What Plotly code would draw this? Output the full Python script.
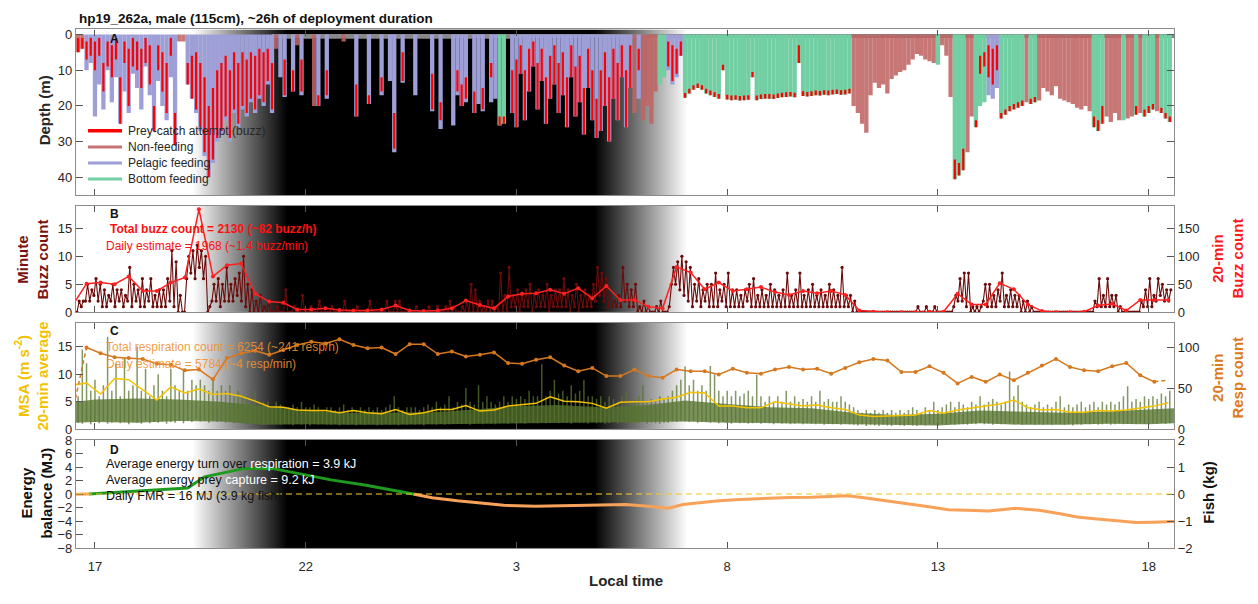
import numpy as np
import plotly.graph_objects as go

W, H = 1258, 604
T_START, T_END = 16.55, 42.6          # hours since midnight of the first day

# x ticks (hours past 24 belong to the next day)
tick_hours = [17, 22, 27, 32, 37, 42]
tick_labels = ["17", "22", "3", "8", "13", "18"]

# sky brightness for the dusk / night / dawn shading (1 = day, 0 = night)
sky_hours = [16.0, 19.3, 21.55, 28.85, 31.05, 43.0]
sky_level = [1, 1, 0, 0, 1, 1]

# ---------------------------------------------------------------- panel A
# one dive every 6 min starting 16:36; max depth (m) and behavioural phase
# N = non-feeding, P = pelagic feeding, B = bottom feeding, S = surfacing only
dive_depth = [
    5, 4, 10, 8, 23, 14, 21, 10, 19, 12,
    25, 16, 22, 11, 15, 21, 9, 17, 27, 13,
    20, 24, 12, 31, 2, 2, 14, 18, 22, 27,
    34, 40, 36, 30, 28, 24, 30, 22, 26, 21,
    23, 19, 22, 18, 20, 14, 22, 4, 12, 17.5,
    1.2, 16, 3, 17, 1.2, 1.2, 20, 20, 1.2, 18,
    1.2, 1.2, 1.2, 2, 1.2, 1.2, 23, 1.2, 1.2, 19.5,
    1.2, 1.2, 17, 1.2, 13, 33, 1.2, 13.5, 1.2, 1.2,
    17, 1.2, 1.2, 1.2, 21.5, 1.2, 26.5, 1.2, 1.2, 25.5,
    17, 20, 19, 1.2, 22, 19.5, 21.5, 1.2, 19, 18,
    25.5, 25, 1.2, 22, 26, 11, 24, 16, 9, 21,
    13, 25, 18, 14, 22, 17, 26, 12, 23, 19,
    28, 15, 24, 29, 27, 20, 30, 18, 24, 12,
    26, 15, 22, 18, 24, 20, 25, 16, 14, 12,
    10, 14, 12, 6, 17.7, 16.5, 15.5, 15, 15.5, 16.5,
    17, 17.5, 18, 10, 18.2, 18.4, 18.3, 18.5, 18.4, 18.3,
    12, 18.4, 18.1, 18.0, 18.0, 18.1, 17.8, 17.6, 17.5, 17.4,
    17.6, 8, 17.2, 17.4, 17.2, 17.0, 17.1, 16.9, 17.0, 16.8,
    16.7, 16.9, 16.8, 16.5, 20, 22, 25, 27.5, 17, 13.5,
    15, 14, 16.5, 12.5, 11.5, 10.5, 10, 8.5, 7, 5.5,
    6, 7, 7.5, 8, 8.5, 3, 6, 17.5, 40.5, 39.5,
    38, 33, 23, 26, 20, 19, 17, 18, 15, 23.5,
    22.5, 21.5, 21, 20.5, 20, 19, 19.5, 19, 18.5, 15,
    16, 17, 14.5, 18, 18.5, 19, 19.5, 20.5, 21, 20,
    21.5, 26, 27, 25, 23, 24.5, 22, 24, 24, 23.5,
    23, 22.5, 22, 23, 22, 21, 21.5, 22, 23.5, 24.5,
]
dive_phase = (
    "NNPPPPPPPP" "PPPPPPPPPP" "PPPPNNPPPP" "PPPPPPPPPP" "PPPPPPPNPP"
    "SPNPSSNPSP" "SSSNSSPSSP" "SSPSPPSPSS" "PSSSPSPSSP" "PPPSPPPSPP"
    "BBSPPPPPPP" "PPPPPPPPPP" "PPPPPPPPPP" "PPNPNNNNBB" "PPPPBBBBBB"
    "BBBBBBBBBB" "BBBBBBBBBB" "BBBBBBBBBB" "BBBBNNNNNN" "NNNNNNNNNN"
    "NNNNBNNNBB" "BNNBBBPPPB" "BBBBBNBBNN" "NNNNNNNNNN" "NBBBNNNNBN"
    "NBNBBBNBBB"
)
# depth range (m) of prey-catch attempts on each dive (0, 0 = none)
buzz_top = [
    1, 1, 2, 1, 2, 1, 8, 2, 3, 1,
    12, 2, 4, 1, 2, 4, 1, 3, 20, 3,
    5, 8, 1, 22, 0, 0, 8, 6, 5, 8,
    12, 20, 15, 10, 8, 6, 10, 5, 8, 5,
    7, 5, 6, 4, 5, 4, 8, 0, 0, 7,
    0, 10, 0, 7, 0, 0, 0, 17, 0, 10,
    0, 0, 0, 0, 0, 0, 14, 0, 0, 17,
    0, 0, 12, 0, 0, 22, 0, 5, 0, 0,
    0, 0, 0, 0, 11, 0, 19, 0, 0, 0,
    10, 14, 12, 0, 16, 0, 15, 0, 8, 0,
    23, 23, 0, 10, 7, 3, 10, 4, 2, 8,
    4, 12, 6, 3, 8, 5, 12, 3, 9, 6,
    15, 4, 10, 18, 10, 5, 12, 4, 8, 3,
    10, 3, 0, 4, 0, 0, 0, 0, 0, 0,
    2, 3, 4, 2, 16.4, 15.2, 14.2, 13.7, 14.2, 15.2,
    15.7, 16.2, 16.7, 8.5, 16.9, 17.1, 17, 17.2, 17.1, 17,
    10.5, 17.1, 16.8, 16.7, 16.7, 16.8, 16.5, 16.3, 16.2, 16.1,
    16.3, 3, 15.9, 16.1, 15.9, 15.7, 15.8, 15.6, 15.7, 15.5,
    15.4, 15.6, 15.5, 15.2, 0, 0, 0, 0, 0, 0,
    0, 0, 0, 0, 0, 0, 0, 0, 0, 0,
    0, 0, 0, 0, 0, 0, 0, 0, 35, 36,
    32, 0, 0, 24, 6, 5, 3, 4, 3, 22,
    21, 20, 19.5, 19, 18.5, 0, 18, 17.5, 0, 0,
    0, 0, 0, 0, 0, 0, 0, 0, 0, 0,
    0, 23, 24, 20, 0, 0, 0, 0, 0, 0,
    0, 20, 0, 21, 20, 19.5, 0, 20.5, 22, 23,
]
buzz_bot = [
    5, 4, 7, 6, 10, 6, 16, 9, 12, 7,
    25, 8, 20, 9, 10, 15, 8, 14, 27, 10,
    16, 22, 6, 31, 0, 0, 14, 18, 21, 26,
    33, 40, 35, 29, 27, 23, 29, 21, 25, 20,
    22, 18, 21, 17, 19, 13, 21, 0, 0, 17,
    0, 16, 0, 16, 0, 0, 0, 20, 0, 17,
    0, 0, 0, 0, 0, 0, 23, 0, 0, 19.5,
    0, 0, 16, 0, 0, 32, 0, 13, 0, 0,
    0, 0, 0, 0, 21, 0, 24, 0, 0, 0,
    16, 20, 18, 0, 22, 0, 21, 0, 12, 0,
    25.5, 25, 0, 22, 26, 11, 24, 16, 9, 21,
    13, 25, 18, 14, 22, 17, 26, 12, 23, 19,
    28, 15, 24, 29, 27, 20, 30, 18, 24, 12,
    26, 15, 0, 10, 0, 0, 0, 0, 0, 0,
    9, 13, 11, 6, 17.7, 16.5, 15.5, 15, 15.5, 16.5,
    17, 17.5, 18, 10, 18.2, 18.4, 18.3, 18.5, 18.4, 18.3,
    12, 18.4, 18.1, 18, 18, 18.1, 17.8, 17.6, 17.5, 17.4,
    17.6, 8, 17.2, 17.4, 17.2, 17, 17.1, 16.9, 17, 16.8,
    16.7, 16.9, 16.8, 16.5, 0, 0, 0, 0, 0, 0,
    0, 0, 0, 0, 0, 0, 0, 0, 0, 0,
    0, 0, 0, 0, 0, 0, 0, 0, 40.5, 39.5,
    38, 0, 0, 26, 11, 9, 12, 14, 10, 23.5,
    22.5, 21.5, 21, 20.5, 20, 0, 19.5, 19, 0, 0,
    0, 0, 0, 0, 0, 0, 0, 0, 0, 0,
    0, 26, 27, 25, 0, 0, 0, 0, 0, 0,
    0, 22.5, 0, 23, 22, 21, 0, 22, 23.5, 24.5,
]
surface_span = [21.2, T_END]          # near-surface band of shallow breathing dives

# ---------------------------------------------------------------- panel B
# per-minute buzz counts, low / high within each 6-min slot
minute_buzz_lo = [
    0, 1, 2, 2, 3, 2, 1, 1, 2, 1,
    2, 1, 2, 1, 2, 1, 1, 2, 1, 1,
    1, 1, 2, 1, 0, 0, 6, 7, 6, 8,
    6, 0, 2, 2, 1, 2, 2, 2, 3, 2,
    1, 0, 0, 0, 0, 0, 0, 0, 0, 0,
    0, 0, 0, 0, 0, 0, 0, 0, 0, 0,
    0, 0, 0, 0, 0, 0, 0, 0, 0, 0,
    0, 0, 0, 0, 0, 0, 0, 0, 0, 0,
    0, 0, 0, 0, 0, 0, 0, 0, 0, 0,
    0, 0, 0, 0, 0, 0, 0, 0, 0, 0,
    0, 0, 0, 1, 1, 0, 1, 1, 0, 1,
    1, 1, 0, 1, 1, 1, 1, 0, 1, 0,
    1, 1, 1, 2, 3, 2, 1, 1, 1, 1,
    2, 1, 1, 0, 0, 0, 0, 0, 0, 0,
    0, 5, 5, 4, 3, 2, 1, 2, 1, 2,
    1, 1, 1, 2, 1, 1, 1, 1, 1, 2,
    1, 1, 1, 1, 1, 1, 1, 1, 1, 1,
    1, 1, 1, 1, 1, 1, 1, 1, 1, 1,
    1, 1, 1, 1, 0, 0, 0, 0, 0, 0,
    0, 0, 0, 0, 0, 0, 0, 0, 0, 0,
    0, 0, 0, 0, 0, 0, 0, 0, 1, 2,
    2, 1, 0, 0, 0, 2, 1, 1, 1, 2,
    1, 1, 1, 1, 0, 0, 0, 0, 0, 0,
    0, 0, 0, 0, 0, 0, 0, 0, 0, 0,
    0, 0, 1, 1, 1, 1, 1, 0, 0, 0,
    0, 0, 0, 1, 1, 1, 2, 3, 2, 2,
]
minute_buzz_hi = [
    2, 2, 5, 4, 6, 5, 4, 3, 5, 4,
    4, 3, 8, 5, 4, 6, 4, 6, 3, 4,
    4, 6, 11, 9, 3, 0, 10, 11, 12, 11,
    10, 1, 5, 6, 5, 8, 5, 6, 7, 10,
    5, 4, 2, 3, 1, 2, 0, 1, 0, 4,
    0, 1, 0, 3, 0, 1, 0, 2, 0, 0,
    1, 0, 0, 2, 0, 0, 1, 0, 0, 2,
    0, 0, 0, 2, 0, 2, 2, 0, 0, 0,
    1, 0, 0, 1, 0, 1, 0, 1, 2, 1,
    0, 1, 2, 5, 4, 2, 1, 2, 2, 1,
    7, 3, 8, 3, 4, 3, 4, 5, 3, 4,
    3, 5, 3, 4, 4, 6, 4, 3, 5, 3,
    4, 3, 5, 8, 7, 6, 3, 2, 3, 8,
    5, 4, 5, 1, 2, 1, 0, 1, 2, 0,
    1, 8, 9, 10, 9, 8, 5, 6, 4, 5,
    5, 7, 4, 5, 7, 4, 4, 3, 4, 5,
    6, 3, 4, 3, 5, 4, 3, 4, 7, 3,
    4, 7, 3, 4, 5, 3, 4, 3, 5, 4,
    3, 8, 3, 3, 2, 0, 0, 0, 0, 0,
    0, 0, 0, 0, 0, 0, 0, 0, 0, 1,
    0, 1, 0, 1, 0, 0, 0, 0, 3, 6,
    7, 7, 1, 1, 1, 5, 5, 3, 4, 7,
    3, 4, 3, 3, 2, 2, 1, 0, 0, 0,
    0, 0, 0, 0, 0, 0, 0, 0, 0, 0,
    0, 2, 6, 3, 6, 3, 3, 1, 0, 0,
    0, 0, 2, 4, 6, 3, 6, 5, 4, 4,
]
# 20-min windows centred from 16:28 onwards
buzz_20min = [
    12, 51, 53, 50, 64, 38, 38, 53, 62, 184, 64,
    84, 87, 33, 19, 17, 5, 5, 7, 4, 3,
    3, 5, 12, 3, 2, 3, 7, 21, 13, 7,
    28, 33, 34, 40, 33, 43, 25, 47, 22, 22,
    10, 7, 81, 71, 41, 53, 38, 41, 45, 36,
    31, 38, 34, 38, 31, 3, 1, 0, 0, 0,
    1, 1, 33, 14, 14, 52, 41, 14, 2, 0,
    0, 1, 12, 15, 3, 22, 22, 22,
]

# ---------------------------------------------------------------- panel C
# minimum specific acceleration (m s-2): floor and peak within each 6-min slot
msa_lo = [
    1.2, 1.0, 1.4, 0.9, 1.3, 1.1, 1.5, 1.0, 1.2, 1.4,
    1.1, 1.3, 0.9, 1.4, 1.2, 1.0, 1.5, 1.1, 1.3, 1.2,
    1.4, 1.0, 1.3, 1.2, 1.5, 1.1, 1.6, 1.3, 1.8, 1.4,
    1.5, 1.2, 1.6, 1.3, 1.4, 1.2, 1.5, 1.1, 1.3, 1.2,
    1.0, 1.2, 0.9, 1.1, 0.8, 1.0, 0.9, 1.1, 0.8, 1.0,
    0.9, 0.7, 1.0, 0.8, 0.9, 0.7, 1.0, 0.8, 0.9, 0.8,
    0.8, 1.0, 0.7, 0.9, 0.8, 1.0, 0.7, 0.9, 0.8, 0.9,
    0.9, 0.7, 0.8, 1.0, 0.8, 0.9, 0.7, 0.9, 0.8, 1.0,
    0.8, 0.9, 0.7, 1.0, 0.9, 0.8, 1.0, 0.8, 0.9, 1.0,
    1.0, 0.9, 1.1, 0.8, 1.0, 1.2, 0.9, 1.1, 1.0, 0.9,
    1.1, 1.2, 1.0, 1.3, 1.1, 1.2, 1.0, 1.3, 1.2, 1.1,
    1.3, 1.1, 1.2, 1.4, 1.1, 1.3, 1.2, 1.0, 1.3, 1.2,
    1.2, 1.0, 1.3, 1.1, 1.2, 1.0, 1.1, 1.3, 1.0, 1.2,
    1.1, 1.2, 1.0, 1.1, 1.3, 1.0, 1.2, 1.1, 1.0, 1.2,
    1.2, 1.4, 1.3, 1.5, 1.4, 1.3, 1.5, 1.2, 1.4, 1.3,
    1.2, 1.4, 1.1, 1.3, 1.2, 1.0, 1.3, 1.1, 1.2, 1.0,
    1.1, 1.3, 1.0, 1.2, 1.1, 0.9, 1.2, 1.0, 1.1, 0.9,
    1.0, 1.2, 0.9, 1.1, 1.0, 0.9, 1.1, 0.8, 1.0, 0.9,
    1.0, 0.8, 1.1, 0.9, 0.8, 0.7, 0.9, 0.6, 0.8, 0.7,
    0.6, 0.8, 0.7, 0.6, 0.8, 0.7, 0.6, 0.8, 0.7, 0.6,
    0.8, 0.7, 0.9, 0.8, 0.7, 0.9, 0.8, 1.0, 0.8, 0.9,
    0.9, 0.8, 1.0, 0.9, 1.1, 0.9, 1.0, 0.8, 1.0, 0.9,
    1.0, 1.1, 0.9, 1.0, 0.8, 0.9, 1.0, 0.8, 0.9, 0.8,
    0.9, 0.8, 1.0, 0.9, 0.8, 0.9, 0.7, 0.9, 0.8, 1.0,
    0.9, 1.0, 0.8, 0.9, 1.0, 0.8, 0.9, 1.1, 0.9, 1.0,
    1.0, 0.9, 1.1, 1.0, 0.9, 1.1, 1.0, 1.2, 1.0, 1.1,
]
msa_hi = [
    6, 14.5, 12, 7, 9, 6, 8, 16.8, 7, 12,
    6, 13, 7, 8, 15, 7, 11, 6, 8, 10,
    7, 6, 11, 8, 7, 11, 7, 9, 8, 9,
    8, 7, 9, 7, 8, 7, 8, 6, 7, 6,
    6, 5, 7, 5, 5, 5, 4, 5, 4.5, 4,
    4, 4.5, 4, 5, 4, 4, 4.5, 4, 3.5, 4,
    4, 3.5, 4, 4.5, 3.5, 4, 3.5, 4, 3.5, 4,
    3.5, 4, 3.5, 4, 4.5, 6, 4, 3.5, 4, 4,
    4, 3.5, 4, 4.5, 4, 5, 4, 4.5, 6, 4,
    5, 4.5, 7.5, 5, 4.5, 8, 5, 6, 5, 4.5,
    5, 6, 5, 6, 5.5, 6, 5.5, 7, 6, 6,
    11.8, 6, 7, 9, 6.5, 7, 6, 8, 6.5, 7,
    9, 6, 6, 5.5, 6, 5, 6, 5.5, 5, 6,
    7, 5, 5.5, 6, 8, 5, 5.5, 5, 6, 5.5,
    6, 7, 8, 9, 11.4, 8, 9, 7, 8, 7,
    11.5, 10, 7, 6, 7, 6, 7, 6, 6.5, 7,
    6, 9.9, 6, 5, 6, 5, 6, 5, 7, 5,
    6, 5, 5.5, 5, 6, 5, 7, 5, 5.5, 5,
    5, 6, 5, 4.5, 4, 3.5, 3, 3.5, 3, 3.5,
    3, 3.5, 3, 3.5, 3, 3.5, 3, 3.5, 4, 3.5,
    3, 4, 3.5, 5, 3.5, 4, 4.5, 5, 4, 5,
    4.5, 4, 5, 4.5, 6, 4.5, 5, 5.5, 5, 4.5,
    5, 10.5, 6, 8, 5, 4.5, 4, 4.5, 5, 4,
    4.5, 4, 5, 6, 4, 4.5, 4, 4.5, 5, 4,
    4.5, 5, 4, 5, 4.5, 5, 4.5, 5, 6, 7.8,
    5, 5.5, 5, 6, 5.5, 6, 5.5, 6.5, 6, 7,
]
# upper edge of the dense part of the MSA trace, hourly
msa_band_hours = [16.55, 17, 18, 19, 20, 21, 22, 23, 24, 25, 26, 27, 28, 29,
                  30, 31, 32, 33, 34, 35, 36, 37, 38, 39, 40, 41, 42, 42.6]
msa_band = [5.0, 5.4, 5.6, 5.4, 5.0, 4.2, 3.4, 3.0, 3.0, 3.1, 3.6, 4.2, 4.4, 4.0,
            4.3, 5.2, 4.6, 4.0, 3.8, 3.0, 2.6, 2.8, 3.4, 3.2, 3.0, 3.2, 3.6, 3.8]
msa_20min = [
    8.0, 8.4, 6.4, 9.2, 9.0, 7.1, 5.3, 7.7, 6.6, 7.3, 6.3,
    6.5, 6.0, 5.1, 4.1, 4.0, 3.5, 3.4, 3.4, 3.0, 3.4,
    3.0, 2.8, 3.6, 2.7, 3.0, 3.6, 3.6, 4.3, 3.3, 3.5,
    4.2, 4.5, 4.7, 5.9, 5.1, 5.0, 4.7, 3.8, 4.9, 5.0,
    5.0, 5.5, 5.8, 6.7, 6.6, 4.2, 4.2, 3.9, 3.9, 5.0,
    4.6, 4.2, 4.4, 3.9, 3.6, 2.6, 2.3, 2.4, 2.5, 2.6,
    3.4, 2.9, 3.5, 3.9, 4.2, 4.6, 5.3, 3.9, 3.5, 3.6,
    3.1, 3.1, 3.4, 3.3, 3.5, 3.9, 4.2, 4.8,
]
resp_20min = [
    21, 100, 93, 88, 87, 86, 80, 79, 72, 73, 61,
    87, 93, 96, 91, 97, 103, 107, 105, 110, 103,
    99, 100, 92, 104, 104, 92, 95, 89, 91, 94,
    81, 80, 85, 88, 78, 71, 75, 65, 65, 73,
    65, 63, 73, 71, 71, 67, 74, 69, 68, 73,
    76, 73, 74, 68, 75, 82, 86, 84, 70, 70,
    77, 69, 56, 64, 58, 67, 60, 69, 78, 86,
    76, 72, 71, 77, 81, 66, 58, 60,
]

# ---------------------------------------------------------------- panel D
energy_hours = [
    16.55, 16.86, 17.9, 18.6, 19.2, 19.6, 20.2, 20.55, 21.2, 21.8,
    22.6, 23.4, 24.16, 24.55, 25.0, 25.6, 26.2, 26.7, 27.45, 28.0,
    28.55, 29.1, 29.6, 30.2, 30.6, 30.95, 31.4, 31.8, 32.3, 32.9,
    33.5, 34.0, 34.5, 34.85, 35.2, 35.6, 36.15, 36.7, 37.25, 37.7,
    38.2, 38.5, 38.85, 39.1, 39.4, 39.9, 40.3, 40.65, 40.95, 41.3,
    41.7, 42.1, 42.6,
]
energy_mj = [
    -0.02, 0, 0.4, 0.6, 0.9, 2.55, 3.3, 3.8, 3.8, 3.1,
    2.1, 1.35, 0.5, 0, -0.55, -1.0, -1.35, -1.65, -1.8, -1.75,
    -1.65, -1.6, -1.55, -1.85, -2.1, -1.55, -1.25, -1.0, -0.8, -0.6,
    -0.5, -0.45, -0.35, -0.25, -0.5, -0.8, -1.3, -1.8, -2.3, -2.4,
    -2.5, -2.3, -2.1, -2.25, -2.4, -2.9, -3.4, -3.6, -3.8, -4.0,
    -4.2, -4.15, -4.05,
]
MJ_PER_KG_FISH = 4.0

# ---------------------------------------------------------------- helpers
slot_hours = 16.6 + 0.1 * np.arange(len(dive_depth))
win_hours = 16.80 + np.arange(-1, len(buzz_20min) - 1) / 3.0

PX_L, PX_R = 76, 1174
PANEL_PX = {"A": (23, 193), "B": (204, 313), "C": (324, 433), "D": (444, 555)}


def px_x(px):
    return px / W


def px_y(py):
    return 1 - py / H


def ydom(key):
    top, bot = PANEL_PX[key]
    return [px_y(bot), px_y(top)]


def vsegments(hours, tops, bottoms):
    xs, ys = [], []
    for t, a, b in zip(hours, tops, bottoms):
        xs += [t, t, None]
        ys += [a, b, None]
    return xs, ys


def zigzag(hours, lo, hi, half=0.025):
    xs, ys = [], []
    for t, a, b in zip(hours, lo, hi):
        xs += [t - half, t + half]
        ys += [a, b]
    return xs, ys


FONT = "Liberation Sans, Arial, Helvetica, sans-serif"
TICK_FONT = dict(family=FONT, size=13, color="#262626")
GRID = "#e6e6e6"
FRAME = "#8c8c8c"
OLIVE = "rgba(88,116,48,0.75)"

fig = go.Figure()


def add_sky(xa, ya, y_lo, y_hi):
    fig.add_trace(go.Heatmap(
        x=sky_hours, y=[y_lo, y_hi], z=[sky_level, sky_level],
        zmin=0, zmax=1, zsmooth="best", showscale=False,
        colorscale=[[0, "#000000"], [1, "#ffffff"]],
        hoverinfo="skip", xaxis=xa, yaxis=ya,
    ))


# ---- panel A: dive profiles
add_sky("x", "y", -5, 50)
fig.add_trace(go.Scatter(
    x=surface_span, y=[0.45, 0.45], mode="lines",
    line=dict(color="#858585", width=4),
    hoverinfo="skip", xaxis="x", yaxis="y",
))
PHASE_COLOR = {
    "S": "#8a8a8a",
    "N": "rgba(192,100,100,0.88)",
    "P": "#9f9fd8",
    "B": "#72cfa3",
}
for code, color in PHASE_COLOR.items():
    idx = [i for i, c in enumerate(dive_phase) if c == code]
    xs, ys = vsegments([slot_hours[i] for i in idx], [0] * len(idx),
                       [dive_depth[i] for i in idx])
    fig.add_trace(go.Scatter(
        x=xs, y=ys, mode="lines", line=dict(color=color, width=4.3),
        hoverinfo="skip", xaxis="x", yaxis="y",
    ))
idx = [i for i in range(len(buzz_bot)) if buzz_bot[i] > 0]
xs, ys = vsegments([slot_hours[i] for i in idx], [buzz_top[i] for i in idx],
                   [buzz_bot[i] for i in idx])
fig.add_trace(go.Scatter(
    x=xs, y=ys, mode="lines", line=dict(color="#ff0000", width=2.2),
    hoverinfo="skip", xaxis="x", yaxis="y",
))

# ---- panel B: buzz counts
add_sky("x2", "y2", -1, 20)
xs, ys = zigzag(slot_hours, minute_buzz_lo, minute_buzz_hi)
fig.add_trace(go.Scatter(
    x=xs, y=ys, mode="lines+markers",
    line=dict(color="#6b0b0b", width=1.1),
    marker=dict(color="#6b0b0b", size=3.2),
    hoverinfo="skip", xaxis="x2", yaxis="y2",
))
fig.add_trace(go.Scatter(
    x=win_hours, y=buzz_20min, mode="lines+markers",
    line=dict(color="#ff1f1f", width=1.5),
    marker=dict(color="#ff1f1f", size=4),
    hoverinfo="skip", xaxis="x2", yaxis="y5",
))

# ---- panel C: acceleration and respirations
add_sky("x3", "y3", -1, 20)
band_floor = np.interp(msa_band_hours, slot_hours, msa_lo)
fig.add_trace(go.Scatter(
    x=msa_band_hours + msa_band_hours[::-1],
    y=msa_band + list(band_floor[::-1]), mode="lines", fill="toself",
    fillcolor="rgba(86,114,46,0.78)", line=dict(width=0),
    hoverinfo="skip", xaxis="x3", yaxis="y3",
))
xs, ys = vsegments(slot_hours, msa_lo, msa_hi)
fig.add_trace(go.Scatter(
    x=xs, y=ys, mode="lines", line=dict(color=OLIVE, width=1.5),
    hoverinfo="skip", xaxis="x3", yaxis="y3",
))
fig.add_trace(go.Scatter(
    x=win_hours, y=msa_20min, mode="lines",
    line=dict(color="#f2c200", width=1.5),
    hoverinfo="skip", xaxis="x3", yaxis="y3",
))
fig.add_trace(go.Scatter(
    x=win_hours[1:-1], y=resp_20min[1:-1], mode="lines+markers",
    line=dict(color="#d6781e", width=1.5),
    marker=dict(color="#d6781e", size=4),
    hoverinfo="skip", xaxis="x3", yaxis="y6",
))
for sl in (slice(0, 2), slice(-2, None)):
    fig.add_trace(go.Scatter(
        x=win_hours[sl], y=resp_20min[sl], mode="lines",
        line=dict(color="#d6781e", width=1.5, dash="4px,3px"),
        hoverinfo="skip", xaxis="x3", yaxis="y6",
    ))

# ---- panel D: cumulative energy balance
add_sky("x4", "y4", -9, 9)
e = np.array(energy_mj)
fig.add_trace(go.Scatter(
    x=energy_hours, y=np.where(e <= 0, e, None), mode="lines",
    line=dict(color="#f7a258", width=3),
    hoverinfo="skip", xaxis="x4", yaxis="y4",
))
fig.add_trace(go.Scatter(
    x=energy_hours, y=np.where(e >= 0, e, None), mode="lines",
    line=dict(color="#1f9a1f", width=3),
    hoverinfo="skip", xaxis="x4", yaxis="y4",
))
fig.add_trace(go.Scatter(
    x=energy_hours, y=e / MJ_PER_KG_FISH, mode="lines",
    line=dict(color="rgba(0,0,0,0)", width=0),
    hoverinfo="skip", xaxis="x4", yaxis="y7",
))
fig.add_shape(type="line", xref="x4 domain", x0=0, x1=1, yref="y4",
              y0=0, y1=0, layer="above",
              line=dict(color="rgba(242,200,40,0.7)", width=1.5, dash="6px,4px"))

# ---------------------------------------------------------------- axes
x_dom = [px_x(PX_L), px_x(PX_R)]


def xaxis(anchor, labels):
    return dict(
        domain=x_dom, anchor=anchor, range=[T_START, T_END],
        tickmode="array", tickvals=tick_hours, ticktext=tick_labels,
        showticklabels=labels, tickfont=TICK_FONT, ticklabelstandoff=6,
        ticks="inside", ticklen=6, tickcolor="#555555",
        showgrid=True, gridcolor=GRID, zeroline=False,
        showline=True, linecolor=FRAME, linewidth=1.3, mirror="ticks",
    )


def yaxis(key, rng, vals, grid=True, mirror=True):
    return dict(
        domain=ydom(key), range=rng, tickmode="array", tickvals=vals,
        tickfont=TICK_FONT, ticks="inside", ticklen=7, tickcolor="#555555",
        showgrid=grid, gridcolor=GRID, zeroline=False,
        showline=True, linecolor=FRAME, linewidth=1.3, mirror=mirror,
    )


def yright(over, anchor, rng, vals):
    return dict(
        overlaying=over, anchor=anchor, side="right", range=rng,
        tickmode="array", tickvals=vals, tickfont=TICK_FONT,
        ticks="inside", ticklen=7, tickcolor="#555555",
        showgrid=False, zeroline=False,
        showline=True, linecolor=FRAME, linewidth=1.3,
    )


yC = yaxis("C", [0, 19.3], [0, 5, 10, 15], grid=False)
yC["minor"] = dict(tickmode="array", tickvals=[50 * 19.3 / 130, 100 * 19.3 / 130],
                   showgrid=True, gridcolor=GRID, ticks="")

fig.update_layout(
    width=W, height=H, margin=dict(l=0, r=0, t=0, b=0),
    paper_bgcolor="white", plot_bgcolor="white",
    font=dict(family=FONT, size=12, color="#262626"),
    showlegend=False,
    xaxis=xaxis("y", False), xaxis2=xaxis("y2", False),
    xaxis3=xaxis("y3", False), xaxis4=xaxis("y4", True),
    yaxis=yaxis("A", [45, -1.4], [0, 10, 20, 30, 40], mirror="ticks"),
    yaxis2=yaxis("B", [0, 19], [0, 5, 10, 15]),
    yaxis3=yC,
    yaxis4=yaxis("D", [-8, 8], list(range(-8, 9, 2))),
    yaxis5=yright("y2", "x2", [0, 190], [0, 50, 100, 150]),
    yaxis6=yright("y3", "x3", [0, 130], [0, 50, 100]),
    yaxis7=yright("y4", "x4", [-2, 2], [-2, -1, 0, 1, 2]),
)

# ---------------------------------------------------------------- text
ann = []


def text(px, py, s, size=12, color="#262626", bold=False, anchor="left",
         angle=0):
    if bold:
        s = "<b>" + s + "</b>"
    ann.append(dict(
        x=px_x(px), y=px_y(py), xref="paper", yref="paper", text=s,
        showarrow=False, xanchor=anchor, yanchor="middle", textangle=angle,
        font=dict(family=FONT, size=size, color=color),
    ))


text(77, 12, "hp19_262a, male (115cm), ~26h of deployment duration",
     size=13.5, color="#111111", bold=True)
text(626, 588, "Local time", size=15, color="#262626", bold=True,
     anchor="center")

# left axis titles
text(44, 106, "Depth (m)", size=15, color="#262626", bold=True,
     anchor="center", angle=-90)
text(33, 259, "Minute<br>Buzz count", size=15, color="#7a1212", bold=True,
     anchor="center", angle=-90)
text(32, 379, "MSA (m s<sup>-2</sup>)<br>20-min average", size=15,
     color="#f2c200", bold=True, anchor="center", angle=-90)
text(37, 499, "Energy<br>balance (MJ)", size=15, color="#111111", bold=True,
     anchor="center", angle=-90)
# right axis titles
text(1228, 258, "20-min<br>Buzz count", size=15, color="#ff1a1a", bold=True,
     anchor="center", angle=-90)
text(1228, 380, "20-min<br>Resp count", size=15, color="#dd7a1c", bold=True,
     anchor="center", angle=-90)
text(1209, 498, "Fish (kg)", size=15, color="#111111", bold=True,
     anchor="center", angle=-90)

# panel letters
for letter, py in (("A", 33), ("B", 212), ("C", 332), ("D", 454)):
    text(108, py, letter, size=12, color="#111111", bold=True)

# dive-phase key drawn inside panel A
key_items = [
    ("Prey-catch attempt (buzz)", "#ff0000", 3.5),
    ("Non-feeding", "rgba(192,100,100,0.9)", 3),
    ("Pelagic feeding", "#9f9fd8", 3),
    ("Bottom feeding", "#72cfa3", 3),
]
for n, (label, color, lw) in enumerate(key_items):
    py = 127 + 16.5 * n
    fig.add_shape(type="line", xref="paper", yref="paper",
                  x0=px_x(88), x1=px_x(122), y0=px_y(py), y1=px_y(py),
                  line=dict(color=color, width=lw), layer="above")
    text(126, py, label, size=12, color="#262626")

# panel annotations
text(108, 228, "Total buzz count = 2130 (~82 buzz/h)", size=12,
     color="#ff1010", bold=True)
text(104, 245, "Daily estimate = 1968 (~1.4 buzz/min)", size=12,
     color="#ff1010")
text(104, 349, "Total respiration count = 6254 (~241 resp/h)", size=12,
     color="rgba(240,145,45,0.9)")
text(104, 366, "Daily estimate = 5784 (~4 resp/min)", size=12,
     color="rgba(240,145,45,0.9)")
text(104, 469, "Average energy turn over "
     "<span style='color:#ffffff'>respiration = 3.9 kJ</span>", size=12.5,
     color="#111111")
text(104, 485, "Average energy prey "
     "<span style='color:#ffffff'>capture = 9.2 kJ</span>", size=12.5,
     color="#111111")
text(104, 501, "Daily FMR = 16 MJ (3.9 kg fish)", size=12.5, color="#111111")

fig.update_layout(annotations=ann)

fig.write_html("out.html", config={"displayModeBar": False})
